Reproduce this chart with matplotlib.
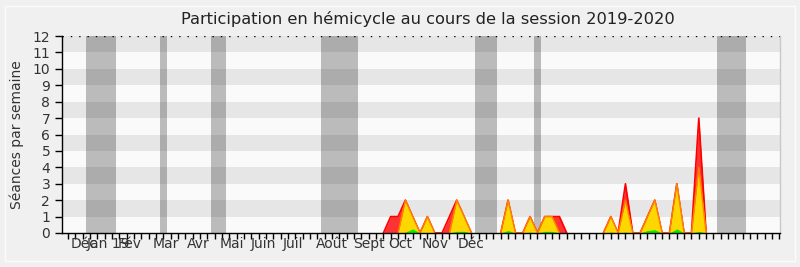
import numpy as np
import matplotlib
matplotlib.use("Agg")
import matplotlib.pyplot as plt
from matplotlib.patches import Rectangle

# semaines 42 a 88 (le reste est a zero)
debut = 42
presences = [0, 0, 1, 1, 2, 1, 0, 1, 0, 0, 1, 2, 1, 0, 0, 0, 0, 0, 2, 0, 0, 1, 0, 1,
             1, 1, 0, 0, 0, 0, 0, 0, 1, 0, 3, 0, 0, 1, 2, 0, 0, 3, 0, 0, 7, 0, 0]
participations = [0, 0, 0, 0, 2, 1, 0, 1, 0, 0, 0, 2, 1, 0, 0, 0, 0, 0, 2, 0, 0, 1, 0, 1,
                  1, 0, 0, 0, 0, 0, 0, 0, 1, 0, 2, 0, 0, 1, 2, 0, 0, 3, 0, 0, 4, 0, 0]
interventions = [0, 0, 0, 0, 0.05, 0.25, 0, 0, 0, 0, 0, 0.1, 0.1, 0, 0, 0, 0, 0, 0.15, 0, 0, 0.05, 0, 0.1,
                 0.1, 0, 0, 0, 0, 0, 0, 0, 0.05, 0, 0.05, 0, 0, 0.15, 0.2, 0, 0, 0.25, 0, 0, 0.1, 0, 0]

# vacances parlementaires (premiere et derniere semaine)
vacances = [(3, 6), (13, 13), (20, 21), (35, 39), (56, 58), (64, 64), (89, 92)]

mois = ["Déc", "Jan 19", "Fév", "Mar", "Avr", "Mai", "Juin", "Juil", "Août", "Sept", "Oct", "Nov", "Déc"]
mois_pos = [2.2, 5.5, 8.4, 13.4, 17.8, 22.4, 26.7, 30.7, 36.0, 41.1, 45.3, 50.1, 54.9]
nb_semaines = 98


def contour(v):
    # pas de trait le long de l'axe entre deux pics
    v = np.array(v, dtype=float)
    prev = np.r_[0, v[:-1]]
    nxt = np.r_[v[1:], 0]
    v[(v == 0) & (prev == 0) & (nxt == 0)] = np.nan
    return v


fig = plt.figure(figsize=(8, 2.67), dpi=100)
fig.patch.set_facecolor("#f0f0f0")
fig.patches.append(Rectangle((5/800, 6/267), 790/800, 255/267, transform=fig.transFigure,
                             facecolor="none", edgecolor="#fbfbfb", lw=1))
ax = fig.add_axes([62/800, 34/267, 718/800, 197/267])
ax.set_facecolor("#fafafa")

for y in range(1, 12, 2):
    ax.axhspan(y, y+1, color="#e6e6e6", lw=0, zorder=0)
for a, b in vacances:
    ax.axvspan(a-0.5, b+0.5, color="black", alpha=0.25, lw=0, zorder=1)

x = np.arange(debut, debut+len(presences))
ax.fill_between(x, presences, color="#ff3333", lw=0, zorder=2)
ax.plot(x, contour(presences), color="red", lw=1.2, zorder=2)
ax.fill_between(x, participations, color="#ffd700", lw=0, zorder=3)
ax.plot(x, contour(participations), color="#ff8000", lw=1, zorder=3)
ax.fill_between(x, interventions, color="#00ee00", lw=0, zorder=4)

ax.axhline(12, color="black", lw=1, ls=(0, (1, 5)), zorder=5)

ax.set_xlim(-0.81, 97.07)
ax.set_ylim(0, 12)
ax.set_yticks(range(13))
ax.xaxis.remove_overlapping_locs = False
ax.set_xticks(range(nb_semaines))
ax.set_xticklabels([])
ax.set_xticks(mois_pos, mois, minor=True)
ax.tick_params(axis="x", which="major", length=4, width=1, direction="out")
ax.tick_params(axis="x", which="minor", length=0, pad=3, labelsize=10, labelcolor="#333333")
ax.tick_params(axis="y", length=5, width=1, labelsize=10, labelcolor="#333333")

ax.spines["top"].set_visible(False)
ax.spines["right"].set_color("#c8c8c8")
ax.spines["left"].set_color("black")
ax.spines["bottom"].set_color("black")
for s in ax.spines.values():
    s.set_zorder(10)
    s.set_linewidth(1)

ax.set_ylabel("Séances par semaine", fontsize=10, color="#333333", labelpad=6)
fig.text(428/800, 1-19/267, "Participation en hémicycle au cours de la session 2019-2020",
         ha="center", va="center", fontsize=11.7, color="#222222")

fig.savefig("out.png", dpi=100, facecolor=fig.get_facecolor())
